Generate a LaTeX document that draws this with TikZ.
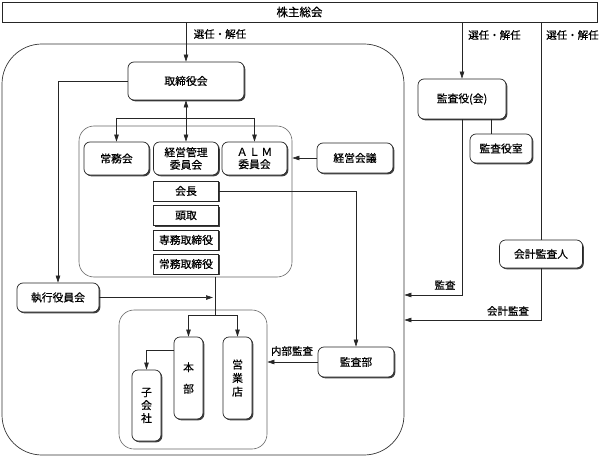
\documentclass[tikz,border=0pt]{standalone}
\usepackage{fontspec}
\setmainfont{Noto Sans CJK JP}[FakeBold=0.6]
\usetikzlibrary{shadows,arrows.meta}
\tikzset{
  shad/.style={drop shadow={shadow xshift=1.3pt, shadow yshift=-1.3pt, fill=black!75, opacity=1}},
  rbox/.style={draw=black!85, line width=0.7pt, rounded corners=6pt, fill=white, shad, inner sep=0pt, align=center},
  sbox/.style={draw=black!85, line width=0.7pt, fill=white, shad, inner sep=0pt, align=center},
  frame/.style={draw=black!60, line width=0.6pt, rounded corners=15pt, inner sep=0pt},
  conn/.style={draw=black!85, line width=0.6pt},
  arr/.style={conn, -{Triangle[length=7pt,width=4.5pt]}},
  darr/.style={conn, {Triangle[length=7pt,width=4.5pt]}-{Triangle[length=7pt,width=4.5pt]}},
  lbl/.style={inner sep=0pt, font=\fontsize{10.5}{12}\selectfont}
}
\begin{document}
\begin{tikzpicture}[x=1pt, y=-1pt, font=\fontsize{10.8}{12.5}\selectfont]
\useasboundingbox (0,0) rectangle (601,457);
% frames
\node[draw=black!80, line width=0.7pt, rounded corners=40pt, minimum width=402pt, minimum height=411pt] (big) at (203,249.5) {};
\node[frame, minimum width=213pt, minimum height=151pt] (inA) at (185.5,201.5) {};
\node[frame, minimum width=148pt, minimum height=139pt] (inB) at (193,379.5) {};
% boxes
\node[sbox, minimum width=595pt, minimum height=20pt, font=\fontsize{11.5}{13}\selectfont] (soukai) at (299.5,12) {株主総会};
\node[rbox, minimum width=116pt, minimum height=38pt] (tori) at (186,81) {取締役会};
\node[rbox, minimum width=65pt, minimum height=33pt] (joumu) at (116.5,158.5) {常務会};
\node[rbox, minimum width=65pt, minimum height=33pt] (kanri) at (186,158.5) {経営管理\\委員会};
\node[rbox, minimum width=65pt, minimum height=33pt] (alm) at (254.5,158.5) {Ａ\hspace{1.5pt}Ｌ\hspace{1.5pt}Ｍ\\委員会};
\node[sbox, minimum width=65pt, minimum height=20pt] (kaicho) at (186,191) {会長};
\node[sbox, minimum width=65pt, minimum height=19.5pt] (todori) at (186,215.5) {頭取};
\node[sbox, minimum width=65pt, minimum height=20pt] (senmu) at (186,240) {専務取締役};
\node[sbox, minimum width=65pt, minimum height=20pt] (joumut) at (186,264) {常務取締役};
\node[rbox, minimum width=76pt, minimum height=30pt] (kaigi) at (355,158) {経営会議};
\node[rbox, minimum width=82pt, minimum height=29pt] (shikko) at (58,297.5) {執行役員会};
\node[rbox, minimum width=29pt, minimum height=82pt] (honbu) at (188.5,378) {本\\[9pt]部};
\node[rbox, minimum width=29pt, minimum height=82pt, font=\fontsize{10.8}{13.5}\selectfont] (eigyo) at (237.5,378) {営\\業\\店};
\node[rbox, minimum width=29pt, minimum height=71pt, font=\fontsize{10.8}{13}\selectfont] (kogai) at (146.5,405.5) {子\\会\\社};
\node[rbox, minimum width=76pt, minimum height=30pt] (kansabu) at (356,362) {監査部};
\node[rbox, minimum width=88pt, minimum height=40pt] (kansayaku) at (462,99) {監査役(会)};
\node[rbox, minimum width=62pt, minimum height=29pt] (shitsu) at (501,148.5) {監査役室};
\node[rbox, minimum width=83pt, minimum height=28pt] (kaikei) at (541,254) {会計監査人};
% labels
\node[lbl] (l1) at (220,34) {選任・解任};
\node[lbl] (l2) at (494.5,35) {選任・解任};
\node[lbl] (l3) at (572.5,35) {選任・解任};
\node[lbl] (l4) at (445,285) {監査};
\node[lbl] (l5) at (508,311) {会計監査};
\node[lbl] (l6) at (292,351) {内部監査};
% coordinates
\coordinate (jb) at (186,118);
\coordinate (bj) at (215,315);
\coordinate (sh) at (213,297.5);
\coordinate (ks) at (491,0);
\coordinate (y1) at (0,295);
\coordinate (y2) at (0,320);
\coordinate (hk) at (146.5,350);
% connectors
\draw[arr] (soukai.south -| tori) -- (tori.north);
\draw[arr] (soukai.south -| kansayaku) -- (kansayaku.north);
\draw[conn] (soukai.south -| kaikei) -- (kaikei.north);
\draw[arr] (tori.west) -| (shikko.north);
\draw[darr] (tori.south) -- (kanri.north);
\draw[conn] (jb -| joumu) -- (jb -| alm);
\draw[arr] (jb -| joumu) -- (joumu.north);
\draw[arr] (jb -| alm) -- (alm.north);
\draw[arr] (kaigi.west) -- (kaigi.west -| inA.east);
\draw[arr] (kaicho.east) -| (kansabu.north);
\draw[arr] (shikko.east) -- (sh);
\draw[conn] (inA.south -| bj) -- (bj);
\draw[conn] (bj -| honbu) -- (bj -| eigyo);
\draw[arr] (bj -| honbu) -- (honbu.north);
\draw[arr] (bj -| eigyo) -- (eigyo.north);
\draw[arr] (honbu.west |- hk) -- (hk) -- (kogai.north);
\draw[arr] (kansabu.west) -- (kansabu.west -| inB.east);
\draw[arr] (kansayaku.south) |- (big.east |- y1);
\draw[conn] (kansayaku.south -| ks) -- (shitsu.north -| ks);
\draw[arr] (kaikei.south) |- (big.east |- y2);
\end{tikzpicture}
\end{document}
